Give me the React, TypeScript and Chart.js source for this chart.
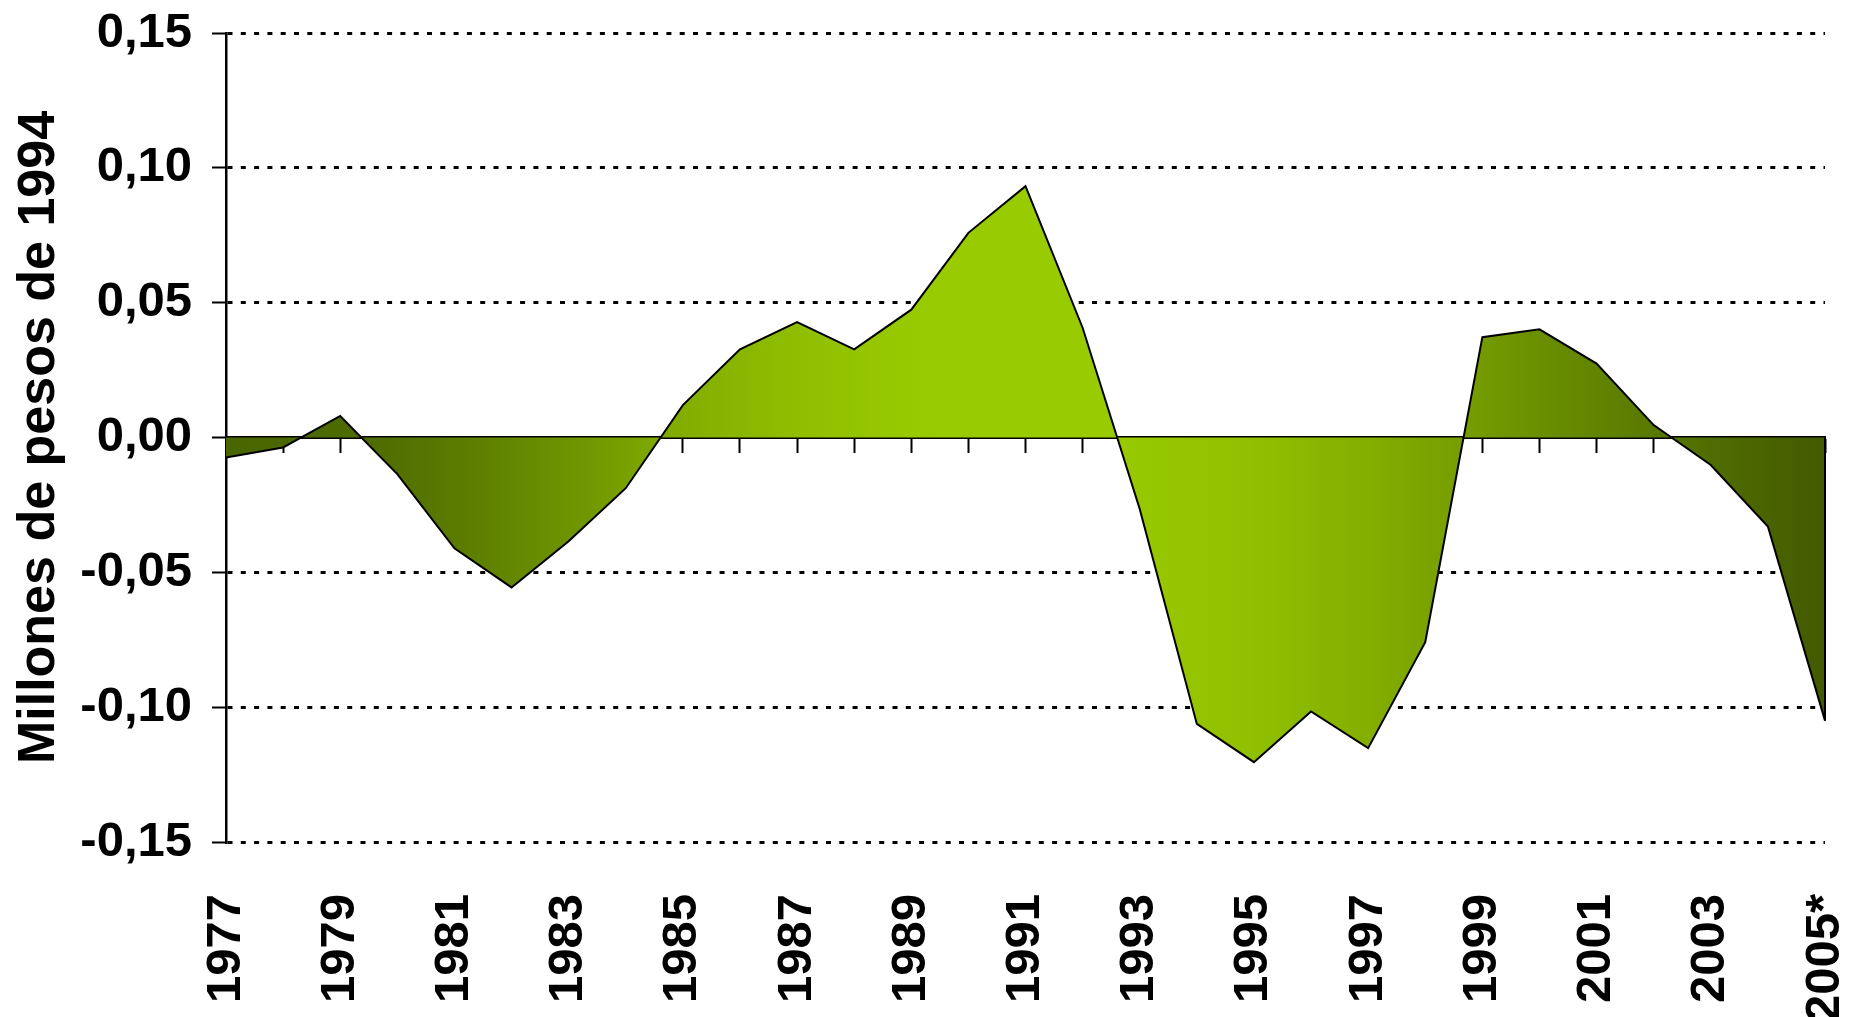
import React, { useEffect, useRef } from 'react';
import { Chart, registerables } from 'chart.js';

Chart.register(...registerables);

// ---- Data ----
const years: string[] = [
  '1977', '1978', '1979', '1980', '1981', '1982', '1983', '1984', '1985', '1986',
  '1987', '1988', '1989', '1990', '1991', '1992', '1993', '1994', '1995', '1996',
  '1997', '1998', '1999', '2000', '2001', '2002', '2003', '2004', '2005*',
];

const values: number[] = [
  -0.0074, -0.0037, 0.0080, -0.0136, -0.0411, -0.0556, -0.0385, -0.0188, 0.0120, 0.0327,
  0.0428, 0.0327, 0.0474, 0.0759, 0.0932, 0.0407, -0.0265, -0.1062, -0.1204, -0.1016,
  -0.1152, -0.0759, 0.0372, 0.0401, 0.0274, 0.0046, -0.0102, -0.0330, -0.1050,
];

const yMin = -0.15;
const yMax = 0.15;
const yStep = 0.05;

const yTitle = 'Millones de pesos de 1994';

// gradient stops (fraction across plot width, colour)
const gradientStops: [number, string][] = [
  [0.0, '#486500'],
  [0.09, '#4e6c00'],
  [0.143, '#5a7a00'],
  [0.214, '#6d9300'],
  [0.286, '#83ae00'],
  [0.357, '#8fbe00'],
  [0.43, '#98ca00'],
  [0.47, '#99cc00'],
  [0.55, '#98cb00'],
  [0.64, '#91c000'],
  [0.714, '#84ae00'],
  [0.786, '#739a00'],
  [0.857, '#628400'],
  [0.929, '#506c00'],
  [1.0, '#435a00'],
];

const FONT = "'Liberation Sans', Arial, Helvetica, sans-serif";

const rightEdgePlugin = {
  id: 'rightEdge',
  afterDatasetsDraw(chart: any) {
    const xs = chart.scales.x;
    const ys = chart.scales.y;
    const last = values.length - 1;
    const x = xs.getPixelForValue(last);
    const y0 = ys.getPixelForValue(0);
    const y1 = ys.getPixelForValue(values[last]);
    const ctx = chart.ctx;
    ctx.save();
    ctx.strokeStyle = '#000';
    ctx.lineWidth = 2;
    ctx.beginPath();
    ctx.moveTo(x, y0);
    ctx.lineTo(x, y1);
    ctx.stroke();
    ctx.restore();
  },
};

export default function App() {
  const canvasRef = useRef<HTMLCanvasElement | null>(null);

  useEffect(() => {
    const canvas = canvasRef.current;
    if (!canvas) return;

    const chart = new Chart(canvas, {
      type: 'line',
      data: {
        labels: years,
        datasets: [
          {
            data: values,
            xAxisID: 'x',
            yAxisID: 'y',
            borderColor: '#000000',
            borderWidth: 2,
            tension: 0,
            pointRadius: 0,
            pointHoverRadius: 0,
            fill: 'origin',
            backgroundColor: (context: any) => {
              const c = context.chart;
              const area = c.chartArea;
              if (!area) return 'rgba(0,0,0,0)';
              const g = c.ctx.createLinearGradient(area.left, 0, area.right, 0);
              gradientStops.forEach(([p, col]) => g.addColorStop(p, col));
              return g;
            },
          },
        ],
      },
      options: {
        responsive: false,
        animation: false,
        devicePixelRatio: 1,
        layout: { padding: { left: 0, top: 33, right: 27, bottom: 0 } },
        plugins: {
          legend: { display: false },
          tooltip: { enabled: false },
        },
        scales: {
          x: {
            type: 'category',
            position: 'bottom',
            offset: false,
            grid: { display: false, drawTicks: false, drawOnChartArea: false },
            border: { display: false },
            ticks: {
              autoSkip: false,
              maxRotation: 90,
              minRotation: 90,
              padding: 52,
              color: '#000',
              font: { family: FONT, size: 49, weight: 'bold', lineHeight: 1 },
              callback: function (this: any, val: any, idx: number) {
                return idx % 2 === 0 ? this.getLabelForValue(val) : '';
              },
            },
            afterFit: (scale: any) => {
              scale.height = 175;
              scale.paddingLeft = 0;
              scale.paddingRight = 0;
            },
          },
          x2: {
            type: 'category',
            position: { y: 0 } as any,
            offset: false,
            z: 1,
            ticks: { display: false },
            grid: {
              drawOnChartArea: false,
              drawTicks: true,
              tickLength: 14,
              tickWidth: 2,
              tickColor: '#000',
              offset: false,
            },
            border: { display: true, color: '#000', width: 3 },
          },
          y: {
            type: 'linear',
            position: 'left',
            min: yMin,
            max: yMax,
            ticks: {
              stepSize: yStep,
              padding: 20,
              color: '#000',
              font: { family: FONT, size: 49, weight: 'bold' },
              callback: (v: any) => {
                let n = Number(v);
                if (Math.abs(n) < 1e-9) n = 0;
                return n.toFixed(2).replace('.', ',');
              },
            },
            grid: {
              color: (ctx: any) =>
                ctx.tick && Math.abs(ctx.tick.value) < 1e-9 ? 'rgba(0,0,0,0)' : '#000',
              lineWidth: 3,
              drawTicks: true,
              tickLength: 14,
              tickWidth: 2,
              tickColor: '#000',
              tickBorderDash: [],
            },
            border: { display: true, color: '#000', width: 2.5, dash: [5, 8.3] },
            title: {
              display: true,
              text: yTitle,
              color: '#000',
              padding: { top: 8, bottom: 0 },
              font: { family: FONT, size: 52, weight: 'bold' },
            },
            afterFit: (scale: any) => {
              scale.width = 226;
              scale.paddingTop = 0;
              scale.paddingBottom = 0;
            },
          },
        },
      },
      plugins: [rightEdgePlugin],
    } as any);

    return () => {
      chart.destroy();
    };
  }, []);

  return (
    <div
      style={{
        position: 'fixed',
        left: 0,
        top: 0,
        width: 1852,
        height: 1017,
        background: '#ffffff',
      }}
    >
      <canvas ref={canvasRef} width={1852} height={1017} style={{ display: 'block' }} />
    </div>
  );
}
